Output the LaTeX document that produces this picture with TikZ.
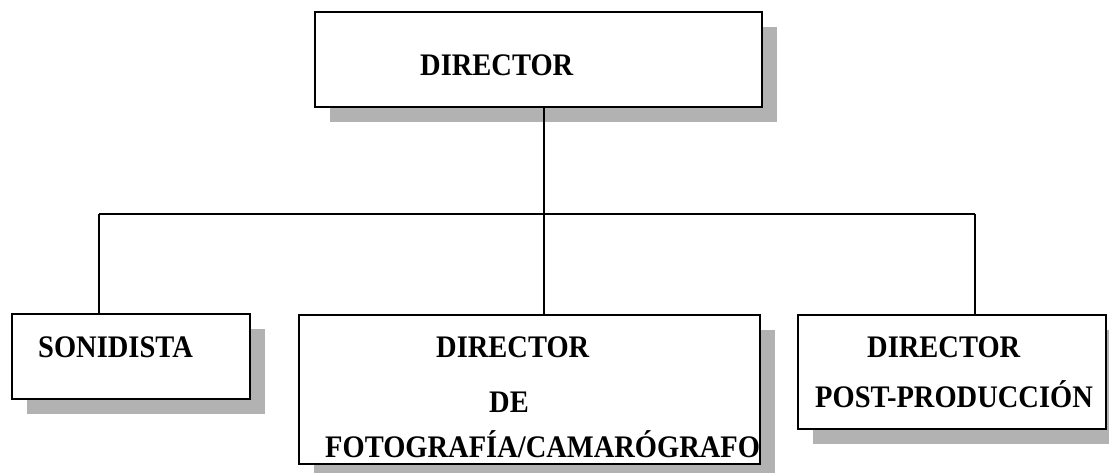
\documentclass[tikz,border=0pt]{standalone}
\usepackage{fontspec}
\usepackage{graphicx}
\setmainfont{Liberation Serif}
\usetikzlibrary{shadows}
\newcommand{\tallbox}[1]{\scalebox{1}[1.1]{#1}}
\tikzset{
  orgbox/.style={draw=black, line width=1.6pt, fill=white, inner sep=0pt, rectangle,
    drop shadow={shadow xshift=15pt, shadow yshift=-15pt, fill=black!30, opacity=1}},
  lbl/.style={anchor=base west, inner sep=0pt, font=\bfseries\fontsize{28.5}{34}\selectfont},
  conn/.style={draw=black, line width=1.6pt}
}
\begin{document}
\begin{tikzpicture}[x=1pt, y=-1pt]
\useasboundingbox (0,0) rectangle (1109,473);
% boxes
\node[orgbox, minimum width=447pt, minimum height=95pt] (top) at (538.5,59.5) {};
\node[orgbox, minimum width=238pt, minimum height=85pt] (son) at (131,356.5) {};
\node[orgbox, minimum width=461pt, minimum height=149pt] (mid) at (529.5,389.5) {};
\node[orgbox, minimum width=308pt, minimum height=114pt] (rgt) at (952,372) {};
% labels
\node[lbl] (ttop) at (420,76) {\tallbox{DIRECTOR}};
\node[lbl] (tson) at (38,357) {\tallbox{SONIDISTA}};
\node[lbl] (tmid1) at (436,357) {\tallbox{DIRECTOR}};
\node[lbl] (tmid2) at (489,412) {\tallbox{DE}};
\node[lbl] (tmid3) at (325,457) {\tallbox{FOTOGRAFÍA/CAMARÓGRAFO}};
\node[lbl] (trgt1) at (867,357) {\tallbox{DIRECTOR}};
\node[lbl] (trgt2) at (815,407) {\tallbox{POST-PRODUCCIÓN}};
% connectors
\coordinate (bus) at (544,214);
\coordinate (busL) at (99,214);
\coordinate (busR) at (975,214);
\draw[conn] (top.south -| bus) -- (bus);
\draw[conn] (busL) -- (busR);
\draw[conn] (busL) -- (son.north -| busL);
\draw[conn] (bus) -- (mid.north -| bus);
\draw[conn] (busR) -- (rgt.north -| busR);
\end{tikzpicture}
\end{document}
